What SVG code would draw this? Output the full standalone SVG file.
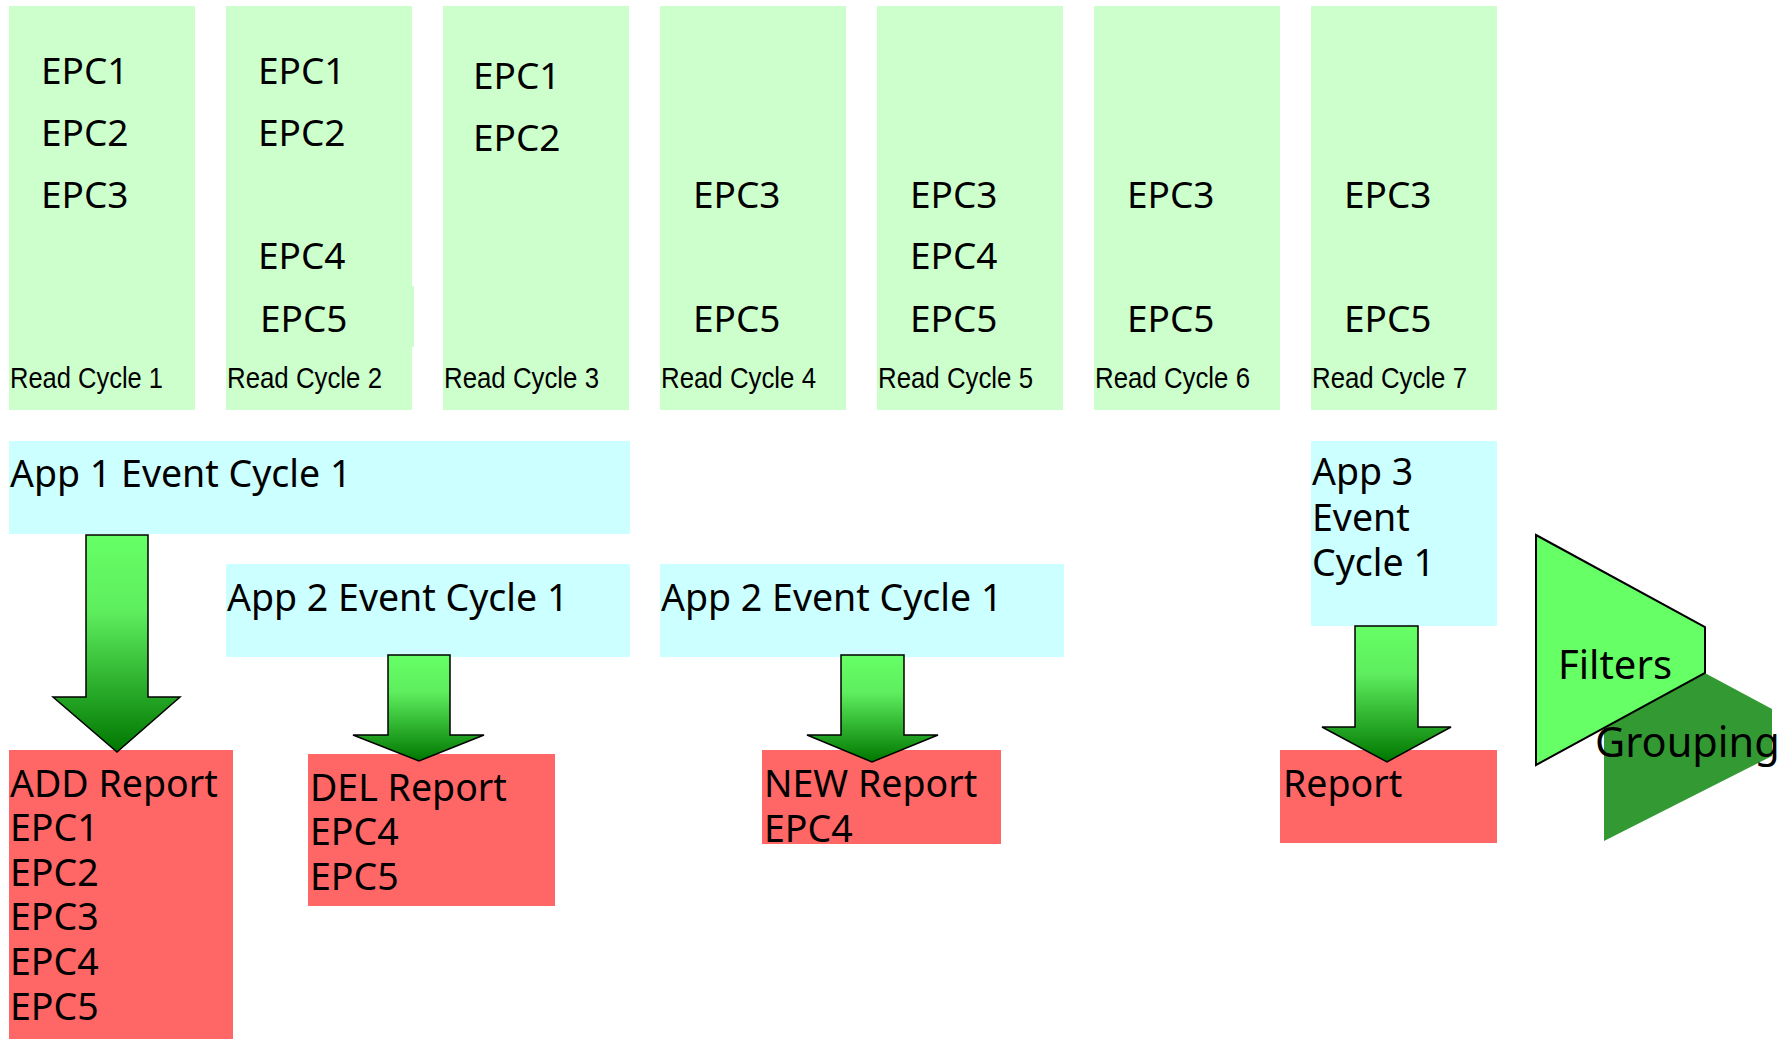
<svg xmlns="http://www.w3.org/2000/svg" width="1791" height="1039" viewBox="0 0 1791 1039">
<style>
.rc{fill:#CCFFCC}
.app{fill:#CCFFFF}
.rep{fill:#FF6666}
.t{font-family:"Noto Sans","DejaVu Sans",sans-serif;font-size:37.5px;fill:#000}
.e{font-family:"Noto Sans","DejaVu Sans",sans-serif;font-size:37px;fill:#000}
.lbl{font-family:"Liberation Sans",Arial,sans-serif;font-size:30px;fill:#000}
.arrow{fill:url(#ag);stroke:#000;stroke-width:1.5;stroke-linejoin:miter}
</style>
<defs>
<linearGradient id="ag" x1="0" y1="0" x2="0" y2="1">
<stop offset="0" stop-color="#66FF66"/>
<stop offset="0.35" stop-color="#5EEE5E"/>
<stop offset="1" stop-color="#007700"/>
</linearGradient>
</defs>
<rect width="1791" height="1039" fill="#fff"/>

<g id="read-cycle-1">
<rect class="rc" x="9" y="6" width="186" height="404"/>
<text class="e" x="41" y="84">EPC1</text>
<text class="e" x="41" y="146">EPC2</text>
<text class="e" x="41" y="208">EPC3</text>
<text class="lbl" x="10" y="388" textLength="153" lengthAdjust="spacingAndGlyphs">Read Cycle 1</text>
</g>
<g id="read-cycle-2">
<rect class="rc" x="226" y="6" width="186" height="404"/>
<rect class="rc" x="411" y="286" width="3" height="61"/>
<text class="e" x="258" y="84">EPC1</text>
<text class="e" x="258" y="146">EPC2</text>
<text class="e" x="258" y="269">EPC4</text>
<text class="e" x="260" y="332">EPC5</text>
<text class="lbl" x="227" y="388" textLength="155" lengthAdjust="spacingAndGlyphs">Read Cycle 2</text>
</g>
<g id="read-cycle-3">
<rect class="rc" x="443" y="6" width="186" height="404"/>
<text class="e" x="473" y="89">EPC1</text>
<text class="e" x="473" y="151">EPC2</text>
<text class="lbl" x="444" y="388" textLength="155" lengthAdjust="spacingAndGlyphs">Read Cycle 3</text>
</g>
<g id="read-cycle-4">
<rect class="rc" x="660" y="6" width="186" height="404"/>
<text class="e" x="693" y="208">EPC3</text>
<text class="e" x="693" y="332">EPC5</text>
<text class="lbl" x="661" y="388" textLength="155" lengthAdjust="spacingAndGlyphs">Read Cycle 4</text>
</g>
<g id="read-cycle-5">
<rect class="rc" x="877" y="6" width="186" height="404"/>
<text class="e" x="910" y="208">EPC3</text>
<text class="e" x="910" y="269">EPC4</text>
<text class="e" x="910" y="332">EPC5</text>
<text class="lbl" x="878" y="388" textLength="155" lengthAdjust="spacingAndGlyphs">Read Cycle 5</text>
</g>
<g id="read-cycle-6">
<rect class="rc" x="1094" y="6" width="186" height="404"/>
<text class="e" x="1127" y="208">EPC3</text>
<text class="e" x="1127" y="332">EPC5</text>
<text class="lbl" x="1095" y="388" textLength="155" lengthAdjust="spacingAndGlyphs">Read Cycle 6</text>
</g>
<g id="read-cycle-7">
<rect class="rc" x="1311" y="6" width="186" height="404"/>
<text class="e" x="1344" y="208">EPC3</text>
<text class="e" x="1344" y="332">EPC5</text>
<text class="lbl" x="1312" y="388" textLength="155" lengthAdjust="spacingAndGlyphs">Read Cycle 7</text>
</g>

<g id="app1-event-cycle-1">
<rect class="app" x="9" y="441" width="621" height="93"/>
<text class="t" x="10" y="487">App 1 Event Cycle 1</text>
</g>
<g id="app2-event-cycle-1a">
<rect class="app" x="226" y="564" width="404" height="93"/>
<text class="t" x="227" y="611">App 2 Event Cycle 1</text>
</g>
<g id="app2-event-cycle-1b">
<rect class="app" x="660" y="564" width="404" height="93"/>
<text class="t" x="661" y="611">App 2 Event Cycle 1</text>
</g>
<g id="app3-event-cycle-1">
<rect class="app" x="1311" y="441" width="186" height="185"/>
<text class="t"><tspan x="1312" y="485">App 3</tspan><tspan x="1312" y="531">Event</tspan><tspan x="1312" y="576">Cycle 1</tspan></text>
</g>

<g id="add-report">
<rect class="rep" x="9" y="750" width="224" height="289"/>
<text class="t"><tspan x="10" y="797">ADD Report</tspan><tspan x="10" y="841">EPC1</tspan><tspan x="10" y="886">EPC2</tspan><tspan x="10" y="930">EPC3</tspan><tspan x="10" y="975">EPC4</tspan><tspan x="10" y="1020">EPC5</tspan></text>
</g>
<g id="del-report">
<rect class="rep" x="308" y="754" width="247" height="152"/>
<text class="t"><tspan x="310" y="801">DEL Report</tspan><tspan x="310" y="845">EPC4</tspan><tspan x="310" y="890">EPC5</tspan></text>
</g>
<g id="new-report">
<rect class="rep" x="762" y="750" width="239" height="94"/>
<text class="t"><tspan x="764" y="797">NEW Report</tspan><tspan x="764" y="842">EPC4</tspan></text>
</g>
<g id="report">
<rect class="rep" x="1280" y="750" width="217" height="93"/>
<text class="t" x="1283" y="797">Report</text>
</g>

<g id="connectors">
<polygon class="arrow" points="86,535 148,535 148,697 180,697 117,752 53,697 86,697"/>
<polygon class="arrow" points="388,655 450,655 450,735 484,735 419,761 353,735 388,735"/>
<polygon class="arrow" points="841,655 904,655 904,735 938,735 872,762 807,735 841,735"/>
<polygon class="arrow" points="1355,626 1418,626 1418,727 1451,727 1387,762 1322,727 1355,727"/>
</g>

<g id="grouping">
<polygon points="1604,619 1772,709 1772,756 1604,841" fill="#339933"/>
</g>
<g id="filters">
<polygon points="1536,535 1705,627 1705,673 1536,765" fill="#66FF66" stroke="#000" stroke-width="2"/>
<text x="1558" y="679" font-family="Noto Sans, DejaVu Sans, sans-serif" font-size="40" fill="#000">Filters</text>
</g>
<g id="grouping-label">
<text x="1595" y="757" font-family="Noto Sans, DejaVu Sans, sans-serif" font-size="41.5" fill="#000">Grouping</text>
</g>
</svg>
